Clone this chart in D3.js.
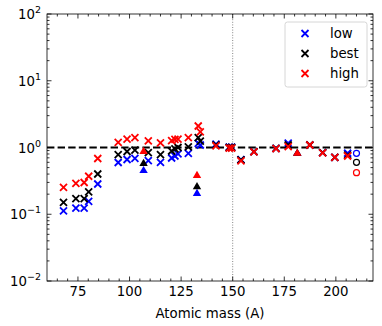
<!DOCTYPE html>
<html>
<head>
<meta charset="utf-8">
<script src="https://cdn.jsdelivr.net/npm/d3@7"></script>
<style>
  body { margin: 0; background: #fff; }
  svg { display: block; font-family: "DejaVu Sans", sans-serif; }
</style>
</head>
<body>
<svg id="chart" width="382" height="326"></svg>
<script>
// cross markers: atomic mass and ratio for low / best / high
const massX = [68, 74, 78, 80.2, 84.6, 94.5, 98.8, 102.6, 109.1, 115, 120.4, 122, 123.5, 128.5, 133.3, 134.3, 141.9, 148.3, 149.5, 154, 160.3, 171, 176.9, 187.4, 193.6, 199.5, 205.7];
const lowX  = [0.112, 0.124, 0.124, 0.156, 0.284, 0.596, 0.661, 0.689, 0.638, 0.60, 0.696, 0.746, 0.80, 0.819, 1.15, 1.09, 1.12, 1.01, 1.01, 0.66, 0.87, 0.97, 1.16, 1.09, 0.84, 0.71, 0.82];
const bestX = [0.151, 0.171, 0.171, 0.216, 0.401, 0.78, 0.871, 0.917, 0.836, 0.78, 0.886, 0.95, 1.0, 1.02, 1.41, 1.25, 1.09, 1.0, 1.0, 0.65, 0.865, 0.97, 1.09, 1.09, 0.836, 0.713, 0.77];
const highX = [0.253, 0.291, 0.299, 0.371, 0.684, 1.19, 1.33, 1.41, 1.26, 1.17, 1.27, 1.32, 1.34, 1.41, 2.1, 1.72, 1.06, 0.98, 0.98, 0.63, 0.86, 0.96, 1.03, 1.09, 0.83, 0.71, 0.746];

// triangle markers
const massTri = [106.8, 132.7, 181.3];
const lowTri  = [0.452, 0.206, 0.82];
const bestTri = [0.58, 0.26, 0.82];
const highTri = [0.877, 0.381, 0.82];

// open circle markers
const massCirc = [210];
const lowCirc  = [0.819];
const bestCirc = [0.60];
const highCirc = [0.419];

const seriesNames = ["low", "best", "high"];
const seriesColors = ["#0000ff", "#000000", "#ff0000"];

const xTicks = [75, 100, 125, 150, 175, 200];
const yTicks = [-2, -1, 0, 1, 2]; // exponents

const svg = d3.select("#chart");
const mLeft = 47, mRight = 373, mTop = 14, mBottom = 281;

const x = d3.scaleLinear().domain([60, 218]).range([mLeft, mRight]);
const y = d3.scaleLog().domain([1e-2, 1e2]).range([mBottom, mTop]);

// reference lines
svg.append("line")
  .attr("x1", x(150)).attr("x2", x(150))
  .attr("y1", mTop).attr("y2", mBottom)
  .attr("stroke", "#666").attr("stroke-width", 0.8)
  .attr("stroke-dasharray", "1,1.6");

svg.append("line")
  .attr("x1", mLeft).attr("x2", mRight)
  .attr("y1", y(1)).attr("y2", y(1))
  .attr("stroke", "#000").attr("stroke-width", 2)
  .attr("stroke-dasharray", "7.4,3.2");

// markers
const crossPath = "M-3.5,-3.5L3.5,3.5M-3.5,3.5L3.5,-3.5";
const triPath = "M0,-4.6L4.2,2.6L-4.2,2.6Z";

const crossSets = [lowX, bestX, highX];
const triSets = [lowTri, bestTri, highTri];
const circSets = [lowCirc, bestCirc, highCirc];

const plot = svg.append("g");
seriesNames.forEach((name, i) => {
  const col = seriesColors[i];
  plot.append("g").selectAll("path")
    .data(massX.map((m, j) => [m, crossSets[i][j]]))
    .join("path")
    .attr("d", crossPath)
    .attr("transform", d => `translate(${x(d[0])},${y(d[1])})`)
    .attr("stroke", col).attr("stroke-width", 1.8).attr("fill", "none");

  plot.append("g").selectAll("path")
    .data(massTri.map((m, j) => [m, triSets[i][j]]))
    .join("path")
    .attr("d", triPath)
    .attr("transform", d => `translate(${x(d[0])},${y(d[1])})`)
    .attr("fill", col);

  plot.append("g").selectAll("circle")
    .data(massCirc.map((m, j) => [m, circSets[i][j]]))
    .join("circle")
    .attr("cx", d => x(d[0])).attr("cy", d => y(d[1]))
    .attr("r", 3).attr("fill", "none")
    .attr("stroke", col).attr("stroke-width", 1.2);
});

// frame + inward ticks on all sides
const ax = svg.append("g").attr("stroke", "#000").attr("stroke-width", 0.8);
ax.append("rect")
  .attr("x", mLeft).attr("y", mTop)
  .attr("width", mRight - mLeft).attr("height", mBottom - mTop)
  .attr("fill", "none");

const xMinor = d3.range(65, 218, 5).filter(v => v % 25 !== 0);
xTicks.forEach(v => {
  ax.append("line").attr("x1", x(v)).attr("x2", x(v)).attr("y1", mBottom).attr("y2", mBottom - 4.5);
  ax.append("line").attr("x1", x(v)).attr("x2", x(v)).attr("y1", mTop).attr("y2", mTop + 4.5);
});
xMinor.forEach(v => {
  ax.append("line").attr("x1", x(v)).attr("x2", x(v)).attr("y1", mBottom).attr("y2", mBottom - 2.5);
  ax.append("line").attr("x1", x(v)).attr("x2", x(v)).attr("y1", mTop).attr("y2", mTop + 2.5);
});

yTicks.forEach(e => {
  const v = Math.pow(10, e);
  ax.append("line").attr("x1", mLeft).attr("x2", mLeft + 4.5).attr("y1", y(v)).attr("y2", y(v));
  ax.append("line").attr("x1", mRight).attr("x2", mRight - 4.5).attr("y1", y(v)).attr("y2", y(v));
  if (e < 2) {
    for (let k = 2; k < 10; k++) {
      const m = k * v;
      ax.append("line").attr("x1", mLeft).attr("x2", mLeft + 2.5).attr("y1", y(m)).attr("y2", y(m));
      ax.append("line").attr("x1", mRight).attr("x2", mRight - 2.5).attr("y1", y(m)).attr("y2", y(m));
    }
  }
});

// tick labels
svg.append("g").selectAll("text")
  .data(xTicks)
  .join("text")
  .attr("x", d => x(d)).attr("y", 296)
  .attr("text-anchor", "middle")
  .attr("font-size", 13.3)
  .text(d => d);

const yLab = svg.append("g").selectAll("text")
  .data(yTicks)
  .join("text")
  .attr("x", 41).attr("y", d => y(Math.pow(10, d)) + 5)
  .attr("text-anchor", "end")
  .attr("font-size", 13.3);
yLab.append("tspan").text("10");
yLab.append("tspan")
  .attr("font-size", 9.5).attr("dy", -6)
  .text(d => d < 0 ? "\u2212" + Math.abs(d) : d);

svg.append("text")
  .attr("x", (mLeft + mRight) / 2).attr("y", 318)
  .attr("text-anchor", "middle")
  .attr("font-size", 13.3)
  .text("Atomic mass (A)");

// legend
const lg = svg.append("g");
lg.append("rect")
  .attr("x", 285).attr("y", 22).attr("width", 82).attr("height", 65)
  .attr("rx", 2.5)
  .attr("fill", "#fff").attr("fill-opacity", 0.8)
  .attr("stroke", "#ccc").attr("stroke-width", 0.8);
seriesNames.forEach((name, i) => {
  const yy = 33.5 + i * 20;
  lg.append("path")
    .attr("d", crossPath)
    .attr("transform", `translate(305,${yy})`)
    .attr("stroke", seriesColors[i]).attr("stroke-width", 1.8).attr("fill", "none");
  lg.append("text")
    .attr("x", 330).attr("y", yy + 4.7)
    .attr("font-size", 13.3)
    .text(name);
});
</script>
</body>
</html>
